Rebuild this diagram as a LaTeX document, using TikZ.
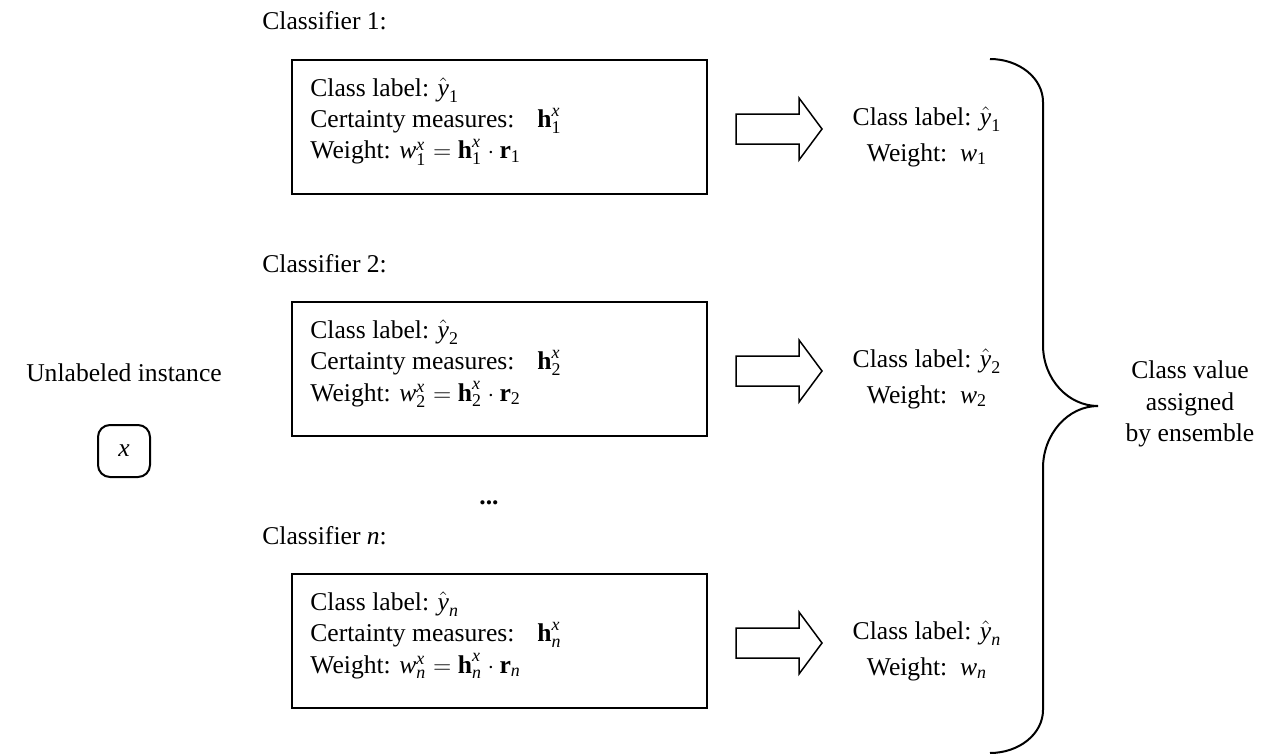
\documentclass[tikz,border=0pt]{standalone}
\usepackage{amsmath}
\usepackage{fontspec}
\setmainfont{Liberation Serif}
\usetikzlibrary{calc}
\tikzset{
  txt/.style={inner sep=0pt, font=\fontsize{12.8}{15.75}\selectfont},
  boxst/.style={draw, line width=1.25pt, minimum width=207.5pt, minimum height=67pt, inner sep=0pt},
  xboxst/.style={draw, line width=1pt, rounded corners=6pt, minimum width=26pt, minimum height=26pt, inner sep=0pt, font=\fontsize{12.8}{15.75}\selectfont},
  bigarrow/.pic={\draw[line width=0.75pt, line join=miter] (0,-15) -- (63,-15) -- (63,-31) -- (86,0) -- (63,31) -- (63,15) -- (0,15) -- cycle;},
  bracest/.style={line width=1pt}
}
\begin{document}
\begin{tikzpicture}[x=0.5pt,y=-0.5pt]
\useasboundingbox (0,0) rectangle (1270,755);
\foreach \t/\k [count=\i] in {60/\textup{1}, 302/\textup{2}, 574/\textit{n}} {
  \node[txt, anchor=base west] (lab\i) at (262, \t-30) {Classifier \k:};
  \node[boxst] (box\i) at (499.5, \t+67) {};
  \node[txt, anchor=base west] (info\i) at (310, \t+36) {\def\arraystretch{1.0}\begin{tabular}[t]{@{}l@{}}
    Class label: $\hat{\textit{y}}_{\k}$\\
    Certainty measures:\hspace{0.9em}$\textbf{h}_{\k}^{\textit{x}}$\\
    Weight: $\textit{w}_{\k}^{\textit{x}}=\textbf{h}_{\k}^{\textit{x}}\cdot\textbf{r}_{\k}$
  \end{tabular}};
  \pic (arr\i) at (736, \t+69) {bigarrow};
  \node[txt, anchor=base] (out\i) at (927, \t+65) {\def\arraystretch{1.143}\begin{tabular}[t]{@{}c@{}}
    Class label: $\hat{\textit{y}}_{\k}$\\
    Weight:\ \ $\textit{w}_{\k}$
  \end{tabular}};
}
\node[txt, anchor=base] (dots) at (489, 504) {\textbf{...}};
\node[txt, anchor=base] (unl) at (124, 381) {Unlabeled instance};
\node[xboxst] (xbox) at (124, 451) {$\textit{x}$};
\coordinate (btop) at (990,59);
\coordinate (b1) at (1043,102);
\coordinate (b2) at (1043,345);
\coordinate (tip) at (1098,406);
\coordinate (b3) at (1043,468);
\coordinate (b4) at (1043,710);
\coordinate (bbot) at (990,753);
\draw[bracest] (btop) .. controls +(29,0) and +(0,-24) .. (b1) -- (b2)
  .. controls +(0,34) and +(-30,0) .. (tip)
  .. controls +(-30,0) and +(0,-34) .. (b3) -- (b4)
  .. controls +(0,24) and +(29,0) .. (bbot);
\node[txt, align=center] (cv) at (1190, 404) {Class value\\assigned\\by ensemble};
\end{tikzpicture}
\end{document}
